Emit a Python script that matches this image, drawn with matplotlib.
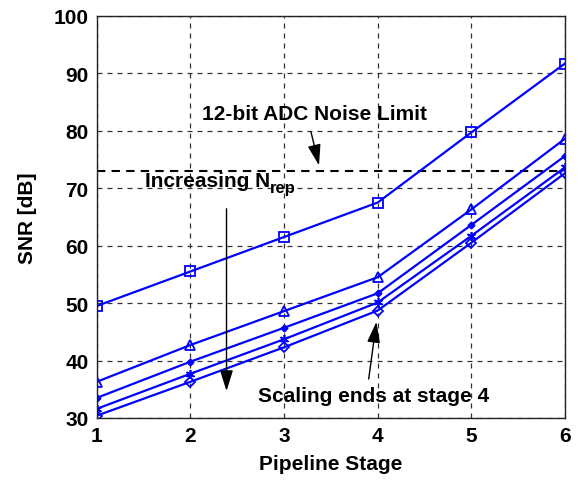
import matplotlib
matplotlib.use("Agg")
import matplotlib.pyplot as plt

plt.rcParams['font.family'] = ['Liberation Sans', 'DejaVu Sans']
plt.rcParams['font.weight'] = 'bold'

# Data
stages = [1, 2, 3, 4, 5, 6]
snr_square = [49.5, 55.5, 61.5, 67.5, 79.7, 91.7]
snr_triangle = [36.3, 42.7, 48.6, 54.5, 66.3, 78.6]
snr_dot = [33.5, 39.8, 45.7, 51.7, 63.6, 75.6]
snr_star = [31.6, 37.7, 43.7, 50.1, 61.7, 73.6]
snr_diamond = [30.4, 36.3, 42.3, 48.7, 60.5, 72.6]
adc_limit = 73.0

xticks = [1, 2, 3, 4, 5, 6]
yticks = [30, 40, 50, 60, 70, 80, 90, 100]

fig = plt.figure(figsize=(5.8, 4.81), dpi=100)
ax = fig.add_axes([0.167, 0.129, 0.807, 0.836])

blue = '#0000ff'
ax.plot(stages, snr_square, color=blue, lw=1.6, marker='s', ms=6.5, mfc='none', mew=1.3)
ax.plot(stages, snr_triangle, color=blue, lw=1.6, marker='^', ms=7.5, mfc='none', mew=1.3)
ax.plot(stages, snr_dot, color=blue, lw=1.6, marker='D', ms=3.5, mfc=blue, mew=1.0)
ax.plot(stages, snr_star, color=blue, lw=1.6, marker=(6, 2, 0), ms=6.5, mew=1.2)
ax.plot(stages, snr_diamond, color=blue, lw=1.6, marker='D', ms=5.5, mfc='none', mew=1.3)

ax.axhline(adc_limit, color='black', lw=1.5, ls=(0, (4, 3)), zorder=1)

ax.set_xlim(1, 6)
ax.set_ylim(30, 100)
ax.set_xticks(xticks)
ax.set_yticks(yticks)
ax.grid(True, color='#333333', ls=(0, (4, 4)), lw=0.9)
ax.tick_params(labelsize=15, length=0, pad=6)
for s in ax.spines.values():
    s.set_color('#222222')
    s.set_linewidth(1.0)

ax.set_xlabel('Pipeline Stage', fontsize=15, fontweight='bold', labelpad=6)
ax.set_ylabel('SNR [dB]', fontsize=15, fontweight='bold', labelpad=12)

arrow_style = '-|>,head_length=0.8,head_width=0.25'

ax.text(2.12, 83.0, '12-bit ADC Noise Limit', fontsize=15, fontweight='bold', va='center', ha='left')
ax.annotate('', xy=(3.38, 73.5), xytext=(3.28, 80.3),
            arrowprops=dict(arrowstyle=arrow_style, color='black', lw=1.0, mutation_scale=16))

t = ax.text(1.51, 71.3, 'Increasing N', fontsize=15, fontweight='bold', va='center', ha='left')
ax.annotate('rep', xy=(1.0, 0.15), xycoords=t, fontsize=12, fontweight='bold', va='center', ha='left')
ax.annotate('', xy=(2.385, 34.2), xytext=(2.385, 66.9),
            arrowprops=dict(arrowstyle=arrow_style, color='black', lw=1.0, mutation_scale=16))

ax.text(2.72, 33.9, 'Scaling ends at stage 4', fontsize=15, fontweight='bold', va='center', ha='left')
ax.annotate('', xy=(3.99, 47.2), xytext=(3.90, 36.3),
            arrowprops=dict(arrowstyle=arrow_style, color='black', lw=1.0, mutation_scale=16))

fig.savefig('out.png', dpi=100)
